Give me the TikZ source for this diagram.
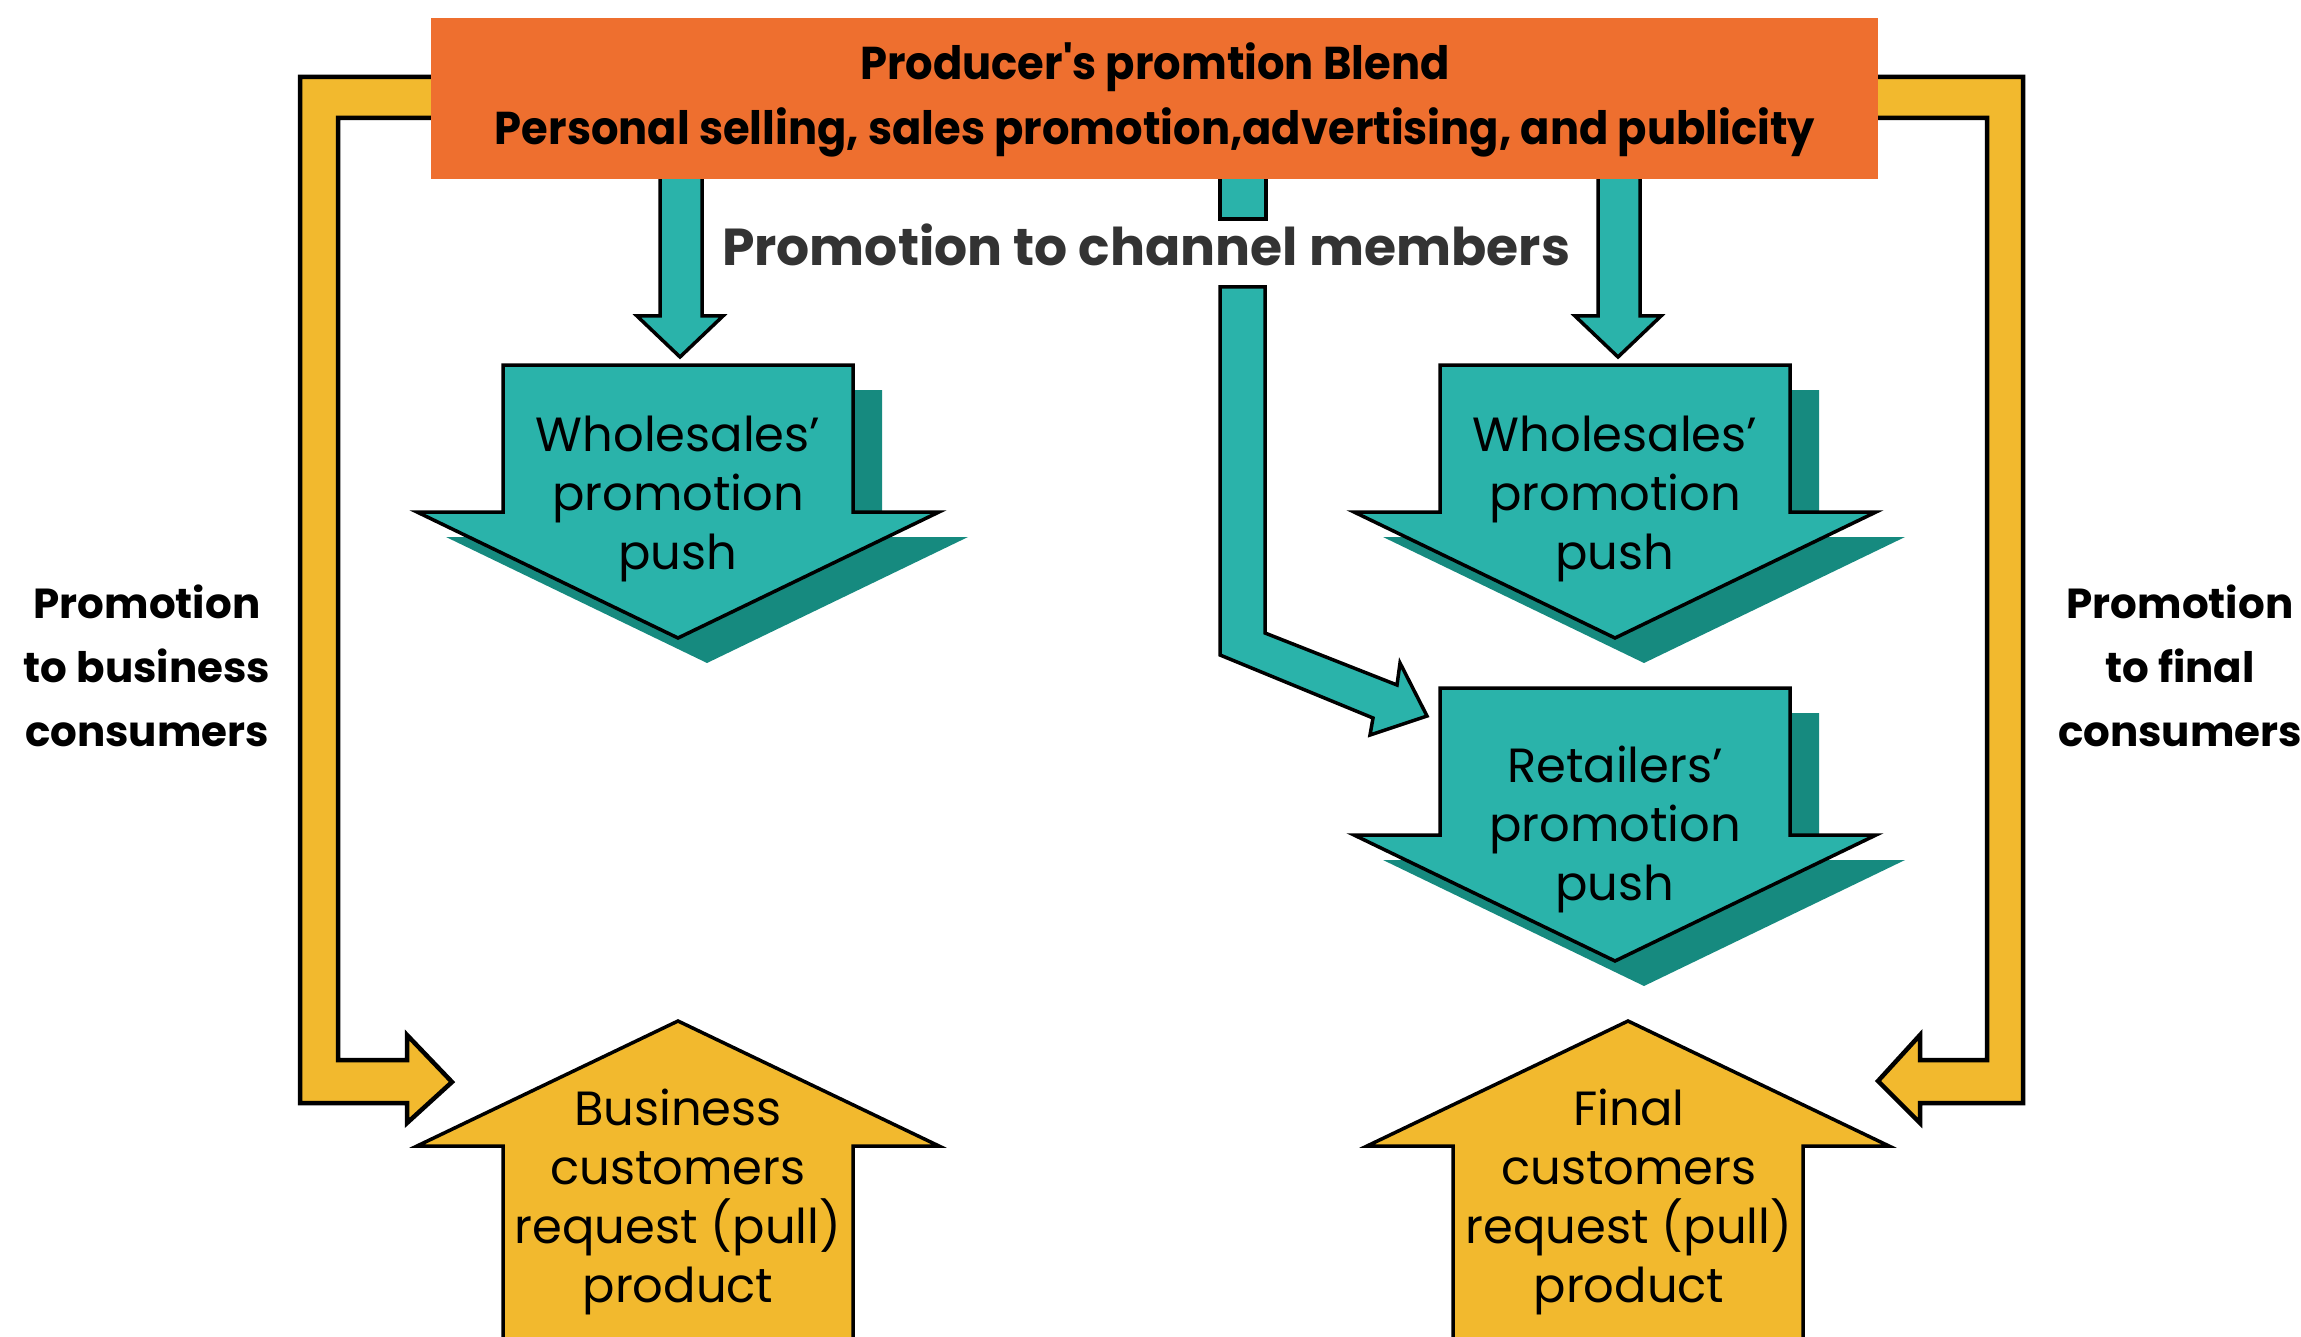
\documentclass[tikz,border=0pt]{standalone}
\usepackage{fontspec}
\setmainfont{Poppins}
\newfontfamily\condfont[FakeStretch=0.94]{Poppins}
\definecolor{blendorange}{HTML}{EE6F2F}
\definecolor{pushteal}{HTML}{2AB3AA}
\definecolor{pushshadow}{HTML}{168A7F}
\definecolor{pullyellow}{HTML}{F2B92E}
\definecolor{channelgray}{HTML}{333333}

\begin{document}
\begin{tikzpicture}[x=1pt,y=-1pt,
  pushbox/.style={fill=pushteal,draw=black,line width=3.5pt,line join=miter},
  pullbox/.style={fill=pullyellow,draw=black,line width=3.5pt,line join=miter},
  feedline/.style={fill=pullyellow,draw=black,line width=4.5pt,line join=miter},
  boxtext/.style={align=center,inner sep=0pt,font=\fontsize{48}{59}\selectfont},
  sidelabel/.style={align=center,inner sep=0pt,font=\fontsize{42}{64}\selectfont\bfseries}]

\useasboundingbox (0,0) rectangle (2301,1337);
\clip (0,0) rectangle (2301,1337);

\filldraw[feedline] (440,77) -- (300,77) -- (300,1103) -- (407,1103) -- (407,1123)
  -- (452,1082) -- (407,1035) -- (407,1060) -- (338,1060) -- (338,118) -- (440,118);
\filldraw[feedline] (1870,77) -- (2023,77) -- (2023,1103) -- (1920,1103) -- (1920,1123)
  -- (1878,1081) -- (1920,1035) -- (1920,1060) -- (1987,1060) -- (1987,118) -- (1870,118);

\filldraw[pushbox] (660,170) -- (660,316) -- (637,316) -- (680,357) -- (723,316)
  -- (702,316) -- (702,170) -- cycle;
\filldraw[pushbox] (1598,170) -- (1598,316) -- (1575,316) -- (1618,357) -- (1661,316)
  -- (1640,316) -- (1640,170) -- cycle;
\filldraw[pushbox] (1220,170) rectangle (1266,219);
\filldraw[pushbox] (1220,287) -- (1220,655) -- (1373,718) -- (1370,735) -- (1427,716)
  -- (1400,663) -- (1397,685) -- (1265,633) -- (1265,287) -- cycle;

\fill[blendorange] (431,18) rectangle (1878,179);
\node[boxtext,font=\fontsize{46}{65}\selectfont\condfont\bfseries] (blend) at (1155,100)
  {Producer's promtion Blend\\Personal selling, sales promotion,advertising, and publicity};

\node[inner sep=0pt,text=channelgray,font=\fontsize{52}{60}\selectfont\bfseries] (channel)
  at (1146,245) {Promotion to channel members};

\foreach \cx/\ty in {678/365,1615/365,1615/688}{
  \fill[pushshadow,shift={(\cx+29,\ty+25)}] (-175,0) -- (175,0) -- (175,147) -- (261,147)
    -- (0,273) -- (-261,147) -- (-175,147) -- cycle;
  \filldraw[pushbox,shift={(\cx,\ty)}] (-175,0) -- (175,0) -- (175,147) -- (261,147)
    -- (0,273) -- (-261,147) -- (-175,147) -- cycle;
}

\foreach \cx in {678,1628}{
  \filldraw[pullbox,shift={(\cx,1021)}] (0,0) -- (261,125) -- (175,125) -- (175,340)
    -- (-175,340) -- (-175,125) -- (-261,125) -- cycle;
}

\node[boxtext] (W) at (678,499) {Wholesales'\\promotion\\push};
\node[boxtext] (V) at (1615,499) {Wholesales'\\promotion\\push};
\node[boxtext] (R) at (1615,829) {Retailers'\\promotion\\push};
\node[boxtext] (B) at (678,1202) {Business\\customers\\request (pull)\\product};
\node[boxtext] (F) at (1629,1202) {Final\\customers\\request (pull)\\product};

\node[sidelabel] (PB) at (147,666) {Promotion\\to business\\consumers};
\node[sidelabel] (PF) at (2180,666) {Promotion\\to final\\consumers};
\end{tikzpicture}
\end{document}
